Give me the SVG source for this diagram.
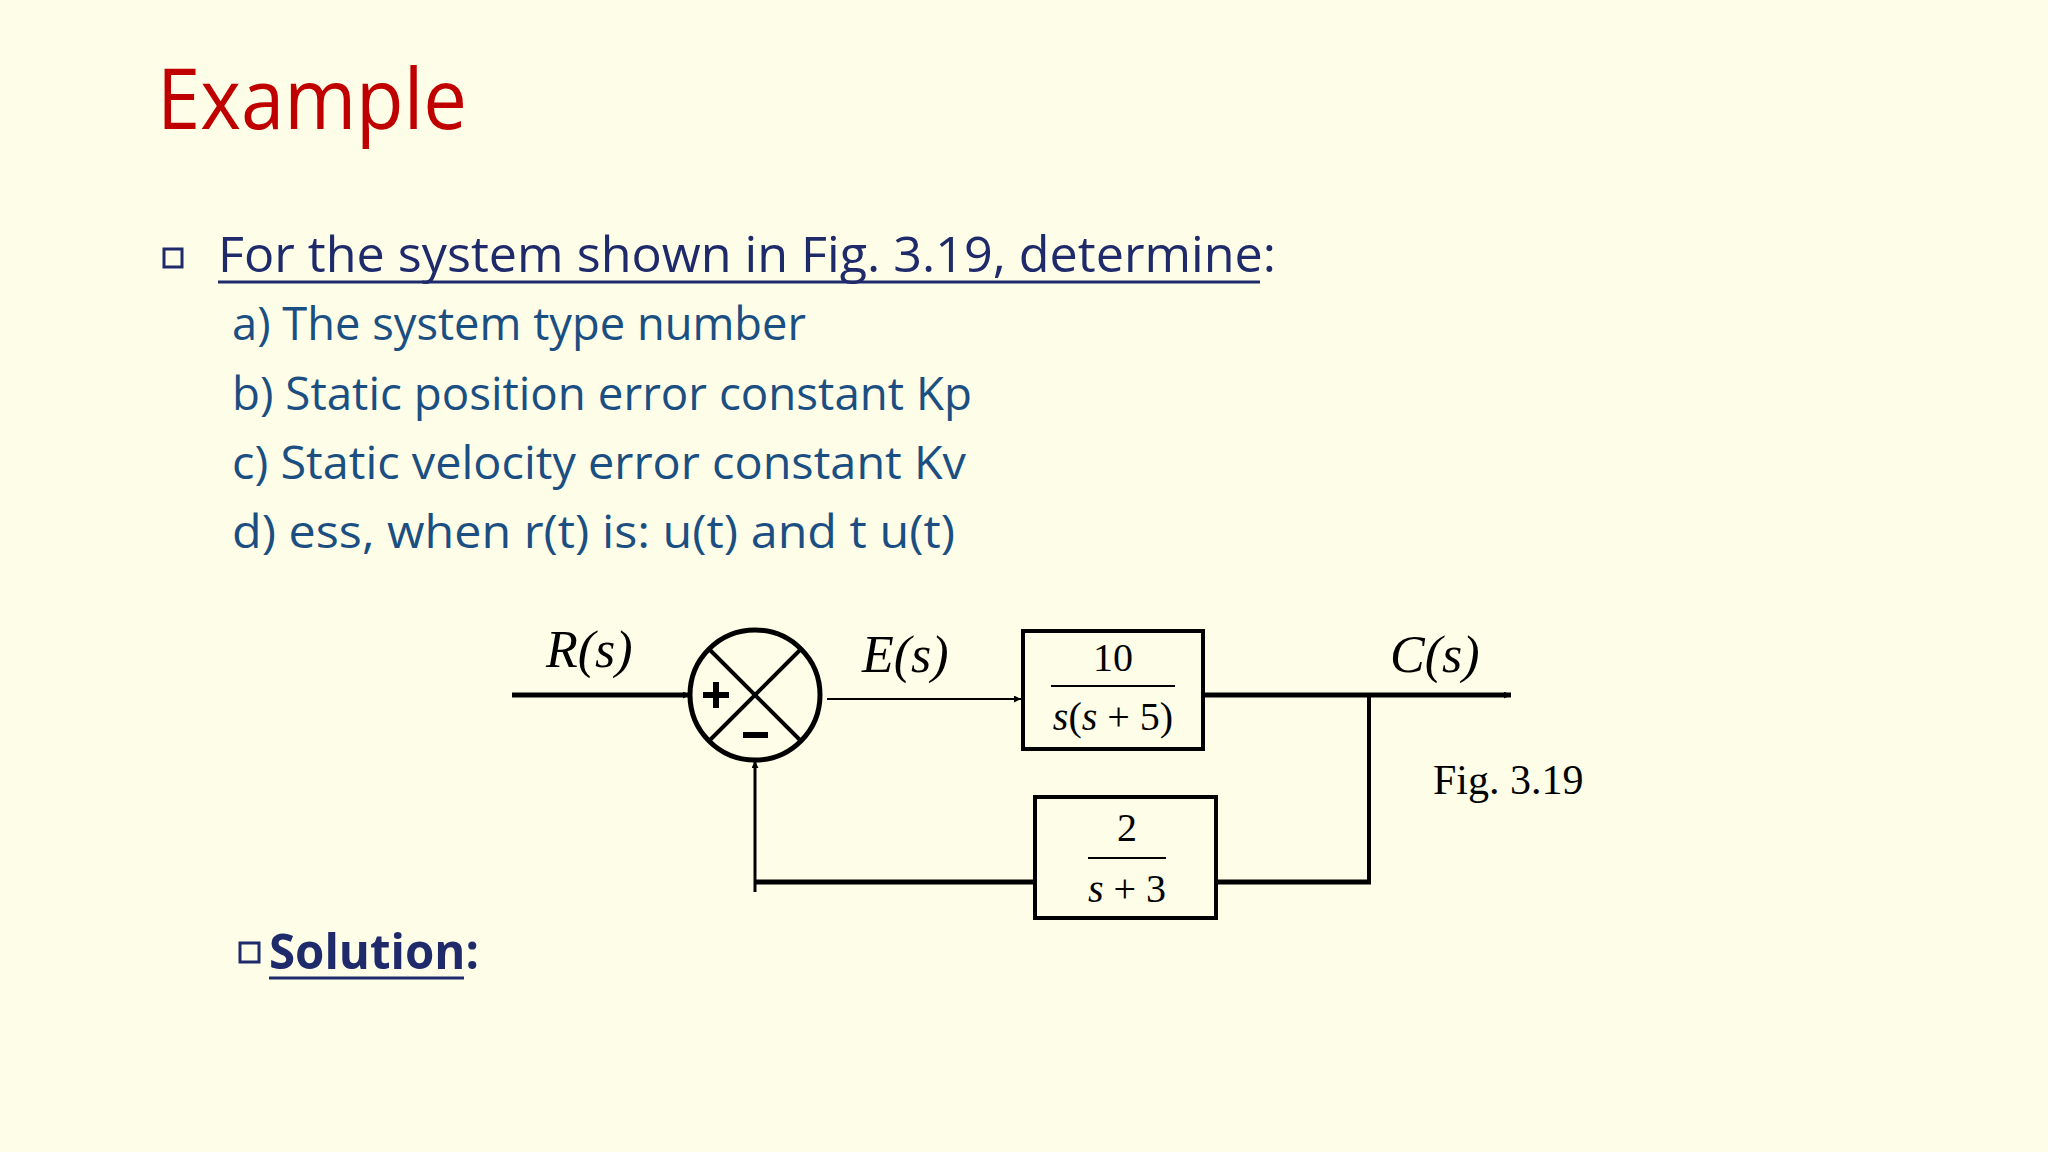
<svg xmlns="http://www.w3.org/2000/svg" width="2048" height="1152" viewBox="0 0 2048 1152">
<defs>
<style>
.t{font-family:"Open Sans","DejaVu Sans",sans-serif}
.h{fill:#1F2A6B;font-size:49px}
.i{fill:#1B4F82;font-size:45px}
.m{font-family:"Liberation Serif",serif;fill:#000}
.ln{stroke:#000;fill:none}
</style>
<marker id="ah" viewBox="0 0 10 10" refX="10" refY="5" markerWidth="7" markerHeight="7" markerUnits="userSpaceOnUse" orient="auto"><path d="M0,0L10,5L0,10z" fill="#000"/></marker>
<marker id="ab" viewBox="0 0 10 10" refX="10" refY="5" markerWidth="4" markerHeight="4" orient="auto"><path d="M0,0L10,5L0,10z" fill="#000"/></marker>
</defs>
<rect width="2048" height="1152" fill="#FEFEE8"/>
<text class="t" x="157" y="129" font-size="84" fill="#C00000" textLength="310" lengthAdjust="spacingAndGlyphs">Example</text>
<rect x="164" y="249" width="18" height="18" fill="none" stroke="#1F2A6B" stroke-width="3"/>
<text class="t h" x="218" y="272" textLength="1058" lengthAdjust="spacingAndGlyphs">For the system shown in Fig. 3.19, determine:</text>
<line x1="218" y1="282" x2="1260" y2="282" stroke="#1F2A6B" stroke-width="3"/>
<text class="t i" x="232" y="340" textLength="574" lengthAdjust="spacingAndGlyphs">a) The system type number</text>
<text class="t i" x="232" y="410" textLength="740" lengthAdjust="spacingAndGlyphs">b) Static position error constant Kp</text>
<text class="t i" x="232" y="479" textLength="734" lengthAdjust="spacingAndGlyphs">c) Static velocity error constant Kv</text>
<text class="t i" x="232" y="548" textLength="723" lengthAdjust="spacingAndGlyphs">d) ess, when r(t) is: u(t) and t u(t)</text>
<rect x="240" y="943" width="19" height="19" fill="none" stroke="#1F2A6B" stroke-width="3"/>
<text class="t h" x="269" y="969" font-weight="bold" textLength="210" lengthAdjust="spacingAndGlyphs">Solution:</text>
<line x1="269" y1="978" x2="464" y2="978" stroke="#1F2A6B" stroke-width="3"/>

<g id="connectors">
<line class="ln" x1="512" y1="695" x2="690" y2="695" stroke-width="5" marker-end="url(#ah)"/>
<line class="ln" x1="827" y1="699" x2="1021" y2="699" stroke-width="2" marker-end="url(#ah)"/>
<line class="ln" x1="1203" y1="695" x2="1511" y2="695" stroke-width="5" marker-end="url(#ah)"/>
<line class="ln" x1="1369" y1="693" x2="1369" y2="884" stroke-width="4"/>
<line class="ln" x1="1216" y1="882" x2="1371" y2="882" stroke-width="5"/>
<line class="ln" x1="1034" y1="882" x2="756" y2="882" stroke-width="5"/>
<line class="ln" x1="755" y1="892" x2="755" y2="761" stroke-width="3" marker-end="url(#ah)"/>
</g>
<g id="sum">
<circle cx="755" cy="695" r="65" fill="none" stroke="#000" stroke-width="5"/>
<line class="ln" x1="709" y1="649" x2="801" y2="741" stroke-width="4"/>
<line class="ln" x1="801" y1="649" x2="709" y2="741" stroke-width="4"/>
<path d="M703,695H729M716,682V708" stroke="#000" stroke-width="6"/>
<path d="M743,735H768" stroke="#000" stroke-width="6"/>
</g>
<g id="labels" class="m" font-style="italic" font-size="52">
<text x="546" y="667">R(s)</text>
<text x="862" y="672">E(s)</text>
<text x="1390" y="672">C(s)</text>
</g>
<g id="G">
<rect x="1023" y="631" width="180" height="118" fill="none" stroke="#000" stroke-width="4"/>
<text class="m" x="1113" y="671" font-size="40" text-anchor="middle">10</text>
<line class="ln" x1="1051" y1="686" x2="1175" y2="686" stroke-width="2"/>
<text class="m" x="1113" y="730" font-size="40" text-anchor="middle"><tspan font-style="italic">s</tspan>(<tspan font-style="italic">s</tspan> + 5)</text>
</g>
<g id="H">
<rect x="1035" y="797" width="181" height="121" fill="none" stroke="#000" stroke-width="4"/>
<text class="m" x="1127" y="841" font-size="40" text-anchor="middle">2</text>
<line class="ln" x1="1088" y1="858" x2="1166" y2="858" stroke-width="2"/>
<text class="m" x="1127" y="902" font-size="40" text-anchor="middle"><tspan font-style="italic">s</tspan> + 3</text>
</g>
<text class="m" x="1433" y="794" font-size="42">Fig. 3.19</text>
</svg>
